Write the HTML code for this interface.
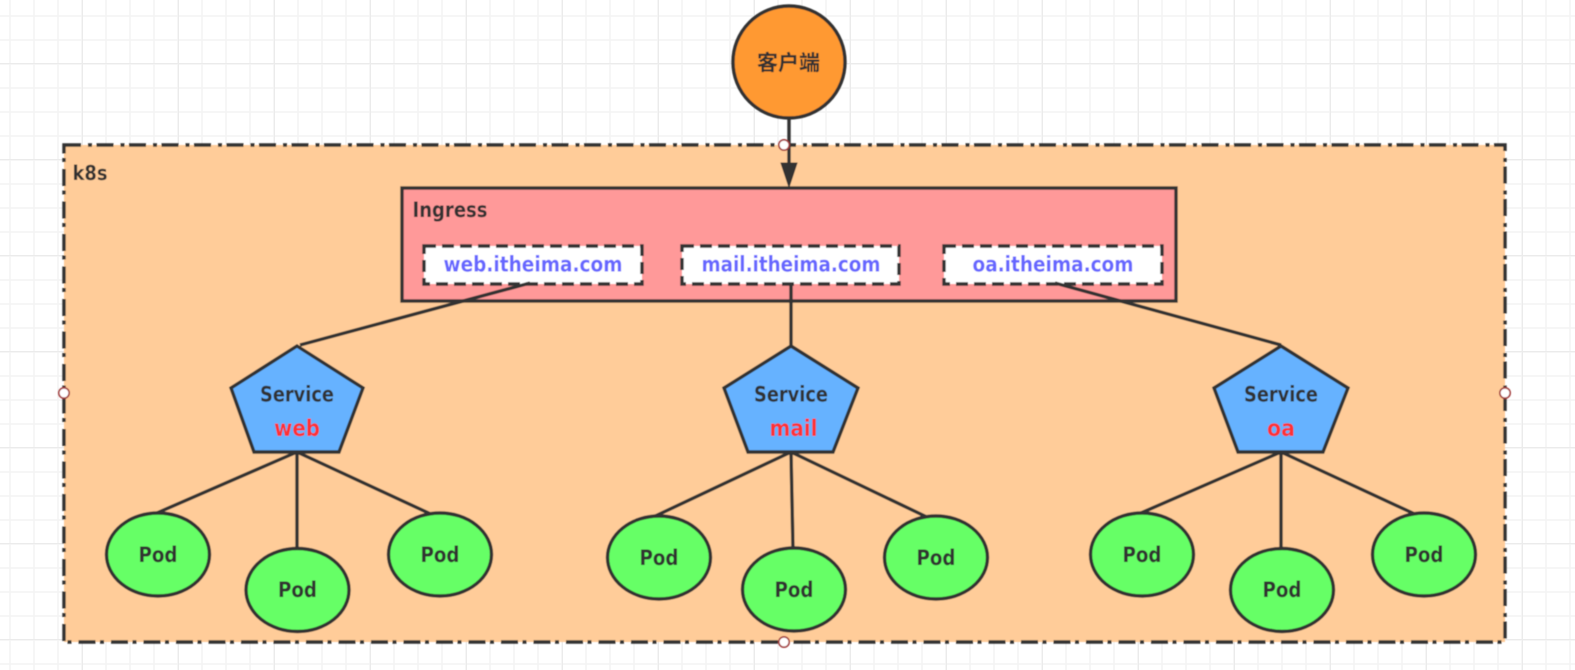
<!DOCTYPE html>
<html><head><meta charset="utf-8"><style>
html,body{margin:0;padding:0;background:#fff;width:1575px;height:670px;overflow:hidden}
svg{display:block}
text{font-family:"DejaVu Sans","Liberation Sans","Noto Sans CJK SC",sans-serif;font-weight:bold;text-anchor:middle}
</style></head><body>
<svg width="1575" height="670" viewBox="0 0 1575 670" xmlns="http://www.w3.org/2000/svg">
<defs>
<pattern id="g1" width="24" height="24" patternUnits="userSpaceOnUse" x="-2" y="0"><path d="M12 0V24M0 16H24" stroke="#f3f3f3" stroke-width="1.6" fill="none"/></pattern>
<pattern id="g2" width="96" height="96" patternUnits="userSpaceOnUse" x="82" y="63"><path d="M0 0V96M0 0H96" stroke="#ebebeb" stroke-width="2" fill="none"/></pattern>
<filter id="b" x="-5%" y="-5%" width="110%" height="110%"><feGaussianBlur stdDeviation="0.4"/></filter>
</defs>
<rect width="1575" height="670" fill="url(#g1)"/>
<rect width="1575" height="670" fill="url(#g2)"/>
<g filter="url(#b)">
<rect x="64" y="145" width="1441" height="497" fill="#ffcc99" stroke="#333" stroke-width="3.4" stroke-dasharray="17 7 4 4.5"/>
<text x="90" y="180" font-size="20" fill="#333" textLength="35" lengthAdjust="spacingAndGlyphs">k8s</text>

<circle cx="789" cy="62" r="56" fill="#ff9933" stroke="#333" stroke-width="3.4"/>
<text x="788.5" y="70" font-size="21" fill="#333" style="font-family:'Noto Sans CJK SC',sans-serif;font-weight:bold">客户端</text>
<line x1="789" y1="118" x2="789" y2="165" stroke="#333" stroke-width="3.4"/>
<path d="M781 163H797L789 187Z" fill="#333" stroke="#333" stroke-width="1"/>

<rect x="402" y="188" width="774" height="113" fill="#ff9999" stroke="#333" stroke-width="3.4"/>
<text x="450" y="217" font-size="21" fill="#333" textLength="75" lengthAdjust="spacingAndGlyphs">Ingress</text>

<rect x="424" y="246" width="218" height="38" fill="#fff" stroke="#333" stroke-width="3.4" stroke-dasharray="12 6"/>
<rect x="682" y="246" width="217" height="38" fill="#fff" stroke="#333" stroke-width="3.4" stroke-dasharray="12 6"/>
<rect x="944" y="246" width="218" height="38" fill="#fff" stroke="#333" stroke-width="3.4" stroke-dasharray="12 6"/>
<text x="533" y="271.5" font-size="21" fill="#6666ff" textLength="179" lengthAdjust="spacingAndGlyphs">web.itheima.com</text>
<text x="791" y="271.5" font-size="21" fill="#6666ff" textLength="179" lengthAdjust="spacingAndGlyphs">mail.itheima.com</text>
<text x="1053" y="271.5" font-size="21" fill="#6666ff" textLength="161" lengthAdjust="spacingAndGlyphs">oa.itheima.com</text>

<g stroke="#333" stroke-width="3.4" fill="none">
<path d="M530 283L300 345"/>
<path d="M791 284V346"/>
<path d="M1055 283L1281 345"/>
<path d="M297 452L150 516M297 452V549M297 452L435 516"/>
<path d="M791 452L649 519M791 452L793 549M791 452L931 519"/>
<path d="M1281 452L1134 516M1281 452V549M1281 452L1419 516"/>
</g>

<g fill="#66b2ff" stroke="#333" stroke-width="3.4" stroke-linejoin="miter">
<path d="M297 346L363 388L339 452H254L231 388Z"/>
<path d="M791 346L858 388L833 452H748L724 388Z"/>
<path d="M1281 346L1348 388L1323 452H1238L1214 388Z"/>
</g>
<text x="297" y="401.5" font-size="21" fill="#333" textLength="74" lengthAdjust="spacingAndGlyphs">Service</text>
<text x="791" y="401.5" font-size="21" fill="#333" textLength="74" lengthAdjust="spacingAndGlyphs">Service</text>
<text x="1281" y="401.5" font-size="21" fill="#333" textLength="74" lengthAdjust="spacingAndGlyphs">Service</text>
<text x="297" y="436" font-size="23" fill="#ff3333" textLength="46" lengthAdjust="spacingAndGlyphs">web</text>
<text x="793.5" y="436" font-size="23" fill="#ff3333" textLength="48" lengthAdjust="spacingAndGlyphs">mail</text>
<text x="1281" y="436" font-size="23" fill="#ff3333" textLength="28" lengthAdjust="spacingAndGlyphs">oa</text>

<g fill="#66ff66" stroke="#333" stroke-width="3.4">
<ellipse cx="158" cy="554.5" rx="51.5" ry="41.5"/>
<ellipse cx="297.5" cy="590" rx="51.5" ry="41.5"/>
<ellipse cx="440" cy="554.5" rx="51.5" ry="41.5"/>
<ellipse cx="659" cy="557.5" rx="51.5" ry="41.5"/>
<ellipse cx="794" cy="589.5" rx="51.5" ry="41.5"/>
<ellipse cx="936" cy="557.5" rx="51.5" ry="41.5"/>
<ellipse cx="1142" cy="554.5" rx="51.5" ry="41.5"/>
<ellipse cx="1282" cy="590" rx="51.5" ry="41.5"/>
<ellipse cx="1424" cy="554.5" rx="51.5" ry="41.5"/>
</g>
<g font-size="21" fill="#333">
<text x="158" y="562" textLength="39" lengthAdjust="spacingAndGlyphs">Pod</text>
<text x="297.5" y="597" textLength="39" lengthAdjust="spacingAndGlyphs">Pod</text>
<text x="440" y="562" textLength="39" lengthAdjust="spacingAndGlyphs">Pod</text>
<text x="659" y="565" textLength="39" lengthAdjust="spacingAndGlyphs">Pod</text>
<text x="794" y="597" textLength="39" lengthAdjust="spacingAndGlyphs">Pod</text>
<text x="936" y="565" textLength="39" lengthAdjust="spacingAndGlyphs">Pod</text>
<text x="1142" y="562" textLength="39" lengthAdjust="spacingAndGlyphs">Pod</text>
<text x="1282" y="597" textLength="39" lengthAdjust="spacingAndGlyphs">Pod</text>
<text x="1424" y="562" textLength="39" lengthAdjust="spacingAndGlyphs">Pod</text>
</g>

<g fill="#fff" stroke="#a33a3a" stroke-width="1.6">
<circle cx="784" cy="145" r="5.2"/>
<circle cx="784" cy="642" r="5.2"/>
<circle cx="64" cy="393" r="5.2"/>
<circle cx="1505" cy="393" r="5.2"/>
</g>
</g>
</svg>
</body></html>
